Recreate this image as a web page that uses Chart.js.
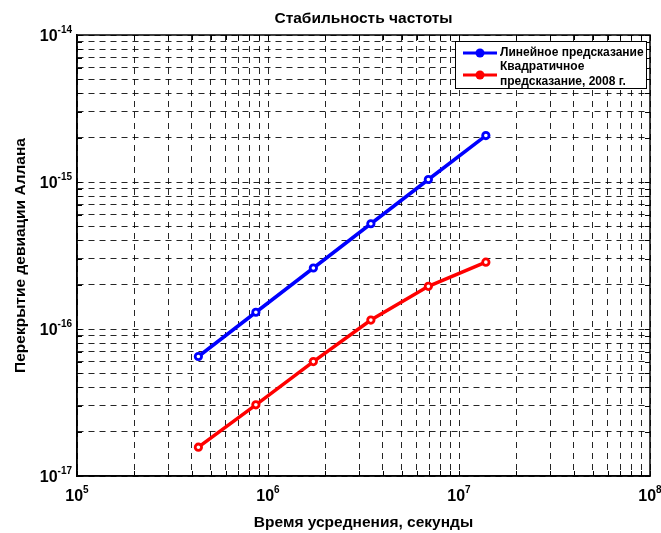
<!DOCTYPE html>
<html><head><meta charset="utf-8">
<script src="https://cdn.jsdelivr.net/npm/chart.js@4"></script>
<style>html,body{margin:0;padding:0;background:#fff}</style>
</head><body>
<canvas id="c" width="661" height="533"></canvas>
<script>
const tau = [432000, 864000, 1728000, 3456000, 6912000, 13824000];
const linearDev = [6.5e-17, 1.3e-16, 2.6e-16, 5.2e-16, 1.04e-15, 2.07e-15];
const quadDev = [1.57e-17, 3.05e-17, 6.0e-17, 1.15e-16, 1.95e-16, 2.85e-16];
const seriesNames = ['Линейное предсказание', 'Квадратичное\nпредсказание, 2008 г.'];
const seriesColors = ['#0000ff', '#ff0000'];
const xExponents = [5, 6, 7, 8];
const yExponents = [-17, -16, -15, -14];
const titleText = 'Стабильность частоты';
const xTitle = 'Время усреднения, секунды';
const yTitle = 'Перекрытие девиации Аллана';

const FONT = '"Liberation Sans", Arial, sans-serif';

function buildTicks(exps) {
  const t = [];
  for (let i = 0; i < exps.length - 1; i++) {
    for (let m = 1; m <= 9; m++) t.push({ value: parseFloat(m + 'e' + exps[i]), major: m === 1 });
  }
  t.push({ value: parseFloat('1e' + exps[exps.length - 1]), major: true });
  return t;
}

const gridOpts = { color: 'rgba(0,0,0,0.85)', lineWidth: 1, drawTicks: false };
const borderOpts = { display: true, color: '#000', width: 1.5, dash: [6, 5] };

const decor = {
  id: 'decor',
  afterDraw(chart) {
    const ctx = chart.ctx, a = chart.chartArea, xs = chart.scales.x, ys = chart.scales.y;
    ctx.save();
    ctx.setLineDash([]);
    ctx.strokeStyle = '#000'; ctx.lineWidth = 1;
    ctx.beginPath();
    xs.ticks.forEach(t => {
      const p = Math.round(xs.getPixelForValue(t.value)) + 0.5;
      ctx.moveTo(p, a.bottom); ctx.lineTo(p, a.bottom - 5);
      ctx.moveTo(p, a.top); ctx.lineTo(p, a.top + 5);
    });
    ys.ticks.forEach(t => {
      const p = Math.round(ys.getPixelForValue(t.value)) + 0.5;
      ctx.moveTo(a.left, p); ctx.lineTo(a.left + 5, p);
      ctx.moveTo(a.right, p); ctx.lineTo(a.right - 5, p);
    });
    ctx.stroke();
    ctx.lineWidth = 1.5;
    ctx.strokeRect(a.left, a.top, a.right - a.left, a.bottom - a.top);

    ctx.fillStyle = '#000';
    ctx.textBaseline = 'alphabetic';
    const big = 'bold 16px ' + FONT, small = 'bold 10px ' + FONT;
    xExponents.forEach(e => {
      const p = xs.getPixelForValue(parseFloat('1e' + e));
      ctx.font = big; const w1 = ctx.measureText('10').width;
      ctx.font = small; const w2 = ctx.measureText(String(e)).width;
      const x0 = p - (w1 + w2) / 2;
      ctx.textAlign = 'left';
      ctx.font = big; ctx.fillText('10', x0, 501);
      ctx.font = small; ctx.fillText(String(e), x0 + w1, 493);
    });
    yExponents.forEach(e => {
      const p = ys.getPixelForValue(parseFloat('1e' + e));
      ctx.font = small; const w2 = ctx.measureText(String(e)).width;
      const xr = a.left - 5;
      ctx.textAlign = 'right';
      ctx.font = small; ctx.fillText(String(e), xr, p - 2);
      ctx.font = big; ctx.fillText('10', xr - w2, p + 6);
    });

    ctx.font = 'bold 15.5px ' + FONT;
    ctx.textAlign = 'center';
    ctx.fillText(titleText, (a.left + a.right) / 2, 23);
    ctx.fillText(xTitle, (a.left + a.right) / 2, 527);
    ctx.save();
    ctx.translate(25, (a.top + a.bottom) / 2);
    ctx.rotate(-Math.PI / 2);
    ctx.fillText(yTitle, 0, 0);
    ctx.restore();

    const lx = 455, ly = 41, lw = 191, lh = 47;
    ctx.fillStyle = '#fff';
    ctx.fillRect(lx, ly, lw, lh);
    ctx.strokeStyle = '#000'; ctx.lineWidth = 1;
    ctx.strokeRect(lx + 0.5, ly + 0.5, lw, lh);
    const rows = [53, 75];
    chart.data.datasets.forEach((ds, i) => {
      const y = rows[i];
      ctx.strokeStyle = ds.borderColor; ctx.lineWidth = 3;
      ctx.beginPath(); ctx.moveTo(463, y); ctx.lineTo(497, y); ctx.stroke();
      ctx.fillStyle = ds.borderColor;
      ctx.beginPath(); ctx.arc(480, y, 4.5, 0, Math.PI * 2); ctx.fill();
      ctx.fillStyle = '#000';
      ctx.font = 'bold 12px ' + FONT;
      ctx.textAlign = 'left'; ctx.textBaseline = 'middle';
      const lines = ds.label.split('\n');
      if (lines.length === 1) ctx.fillText(lines[0], 500, y);
      else { ctx.fillText(lines[0], 500, y - 8); ctx.fillText(lines[1], 500, y + 7); }
    });
    ctx.restore();
  }
};

new Chart(document.getElementById('c'), {
  type: 'line',
  data: {
    datasets: [
      { label: seriesNames[0], data: tau.map((t, i) => ({ x: t, y: linearDev[i] })),
        borderColor: seriesColors[0], backgroundColor: seriesColors[0], borderWidth: 3.5,
        pointRadius: 3.2, pointBorderWidth: 2.8, pointBackgroundColor: '#fff', pointBorderColor: seriesColors[0], tension: 0 },
      { label: seriesNames[1], data: tau.map((t, i) => ({ x: t, y: quadDev[i] })),
        borderColor: seriesColors[1], backgroundColor: seriesColors[1], borderWidth: 3.5,
        pointRadius: 3.2, pointBorderWidth: 2.8, pointBackgroundColor: '#fff', pointBorderColor: seriesColors[1], tension: 0 }
    ]
  },
  options: {
    responsive: false,
    animation: false,
    events: [],
    layout: { padding: { top: 35, right: 11, left: 0, bottom: 0 } },
    plugins: { legend: { display: false }, title: { display: false }, tooltip: { enabled: false } },
    scales: {
      x: {
        type: 'logarithmic', min: 1e5, max: 1e8,
        afterBuildTicks: s => { s.ticks = buildTicks(xExponents); },
        afterFit: s => { s.height = 57; },
        ticks: { display: false, autoSkip: false },
        grid: gridOpts, border: borderOpts
      },
      y: {
        type: 'logarithmic', min: 1e-17, max: 1e-14,
        afterBuildTicks: s => { s.ticks = buildTicks(yExponents); },
        afterFit: s => { s.width = 77; },
        ticks: { display: false, autoSkip: false },
        grid: gridOpts, border: borderOpts
      }
    }
  },
  plugins: [decor]
});
</script>
</body></html>
